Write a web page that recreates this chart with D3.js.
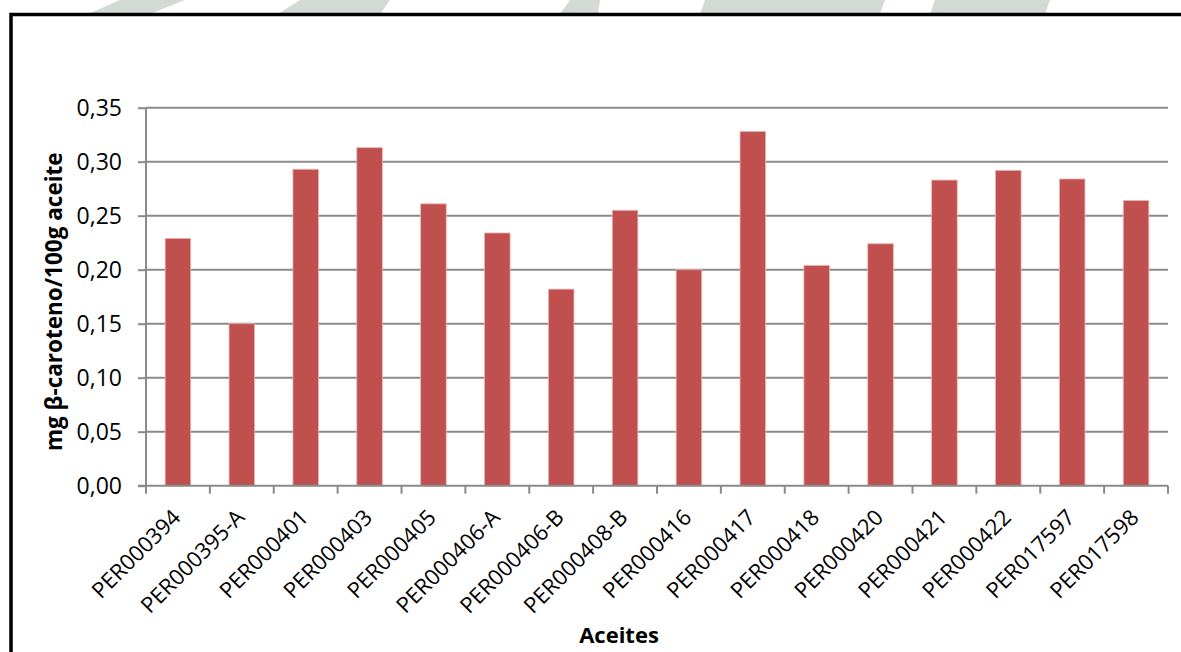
<!DOCTYPE html>
<html>
<head>
<meta charset="utf-8">
<script src="https://cdn.jsdelivr.net/npm/d3@7"></script>
<style>
  html, body { margin: 0; padding: 0; background: #ffffff; }
  svg { display: block; }
  text { font-family: "Open Sans", "DejaVu Sans", sans-serif; fill: #000; }
</style>
</head>
<body>
<svg id="chart" width="1181" height="652"></svg>
<script>
// Carotenoid content per oil sample (mg β-caroteno / 100 g aceite)
const categories = ["PER000394", "PER000395-A", "PER000401", "PER000403", "PER000405",
  "PER000406-A", "PER000406-B", "PER000408-B", "PER000416", "PER000417", "PER000418",
  "PER000420", "PER000421", "PER000422", "PER017597", "PER017598"];
const values = [0.229, 0.150, 0.293, 0.313, 0.261, 0.234, 0.182, 0.255, 0.200, 0.328,
  0.204, 0.224, 0.283, 0.292, 0.284, 0.264];
const yTicks = [0, 0.05, 0.10, 0.15, 0.20, 0.25, 0.30, 0.35];
const yTitle = "mg β-caroteno/100g aceite";
const xTitle = "Aceites";

const svg = d3.select("#chart");

// faint background shapes peeking above the chart frame
const bg = svg.append("g").attr("fill", "#d3dad3");
bg.append("path").attr("d", "M88,14 L120,0 L185,0 L150,14 Z");
bg.append("path").attr("d", "M278,14 L300,0 L390,0 L380,14 Z");
bg.append("path").attr("d", "M560,14 L570,0 L600,0 L598,14 Z");
bg.append("path").attr("d", "M700,14 L705,0 L885,0 L880,14 Z");
bg.append("path").attr("d", "M930,14 L935,0 L1050,0 L1045,14 Z");

// chart frame
svg.append("rect")
  .attr("x", 11).attr("y", 14.5)
  .attr("width", 1200).attr("height", 700)
  .attr("fill", "#fff").attr("stroke", "#000").attr("stroke-width", 3.5);

const plot = { left: 146, right: 1168, top: 107.7, bottom: 485.7 };

const x = d3.scaleBand()
  .domain(categories)
  .range([plot.left, plot.right])
  .paddingInner(0.6)
  .paddingOuter(0.3);

const y = d3.scaleLinear()
  .domain([0, 0.35])
  .range([plot.bottom, plot.top]);

const fmt = v => d3.format(".2f")(v).replace(".", ",");

// horizontal gridlines
svg.append("g")
  .selectAll("line")
  .data(yTicks.filter(t => t > 0))
  .join("line")
  .attr("x1", plot.left).attr("x2", plot.right)
  .attr("y1", d => y(d)).attr("y2", d => y(d))
  .attr("stroke", "#8a8a8a").attr("stroke-width", 2);

// bars
svg.append("g")
  .selectAll("rect")
  .data(values)
  .join("rect")
  .attr("x", (d, i) => x(categories[i]))
  .attr("y", d => y(d))
  .attr("width", x.bandwidth())
  .attr("height", d => y(0) - y(d))
  .attr("fill", "#c0504d")
  .attr("stroke", "#e9b4b3")
  .attr("stroke-width", 0.8);

// y axis
const yAxis = d3.axisLeft(y)
  .tickValues(yTicks)
  .tickFormat(fmt)
  .tickSize(8)
  .tickPadding(16);
const gy = svg.append("g")
  .attr("transform", `translate(${plot.left},0)`)
  .call(yAxis);
gy.select(".domain").attr("stroke", "#8a8a8a").attr("stroke-width", 2)
  .attr("d", `M0,${plot.top}V${plot.bottom}`);
gy.selectAll(".tick line").attr("stroke", "#8a8a8a").attr("stroke-width", 2);
gy.selectAll(".tick text")
  .attr("font-size", 23)
  .attr("font-family", "'Open Sans', sans-serif")
  .attr("fill", "#000");

// x axis with ticks on category boundaries
const step = x.step();
const boundaries = d3.range(categories.length + 1).map(i => plot.left + i * step);
const gx = svg.append("g");
gx.append("line")
  .attr("x1", plot.left - 8).attr("x2", plot.right)
  .attr("y1", plot.bottom).attr("y2", plot.bottom)
  .attr("stroke", "#8a8a8a").attr("stroke-width", 2);
gx.selectAll("line.tk")
  .data(boundaries)
  .join("line")
  .attr("class", "tk")
  .attr("x1", d => d).attr("x2", d => d)
  .attr("y1", plot.bottom).attr("y2", plot.bottom + 8)
  .attr("stroke", "#8a8a8a").attr("stroke-width", 2);

gx.selectAll("text")
  .data(categories)
  .join("text")
  .attr("transform", d => `translate(${x(d) + x.bandwidth() / 2 - 7},${plot.bottom + 22}) rotate(-45)`)
  .attr("text-anchor", "end")
  .attr("dy", "0.71em")
  .attr("font-size", 22)
  .text(d => d);

// axis titles
svg.append("text")
  .attr("transform", `translate(62,${(plot.top + plot.bottom) / 2 + 5}) rotate(-90)`)
  .attr("text-anchor", "middle")
  .attr("font-size", 22.5)
  .attr("font-weight", "bold")
  .text(yTitle);

svg.append("text")
  .attr("x", 619).attr("y", 643)
  .attr("text-anchor", "middle")
  .attr("font-size", 22)
  .attr("font-weight", "bold")
  .text(xTitle);
</script>
</body>
</html>
